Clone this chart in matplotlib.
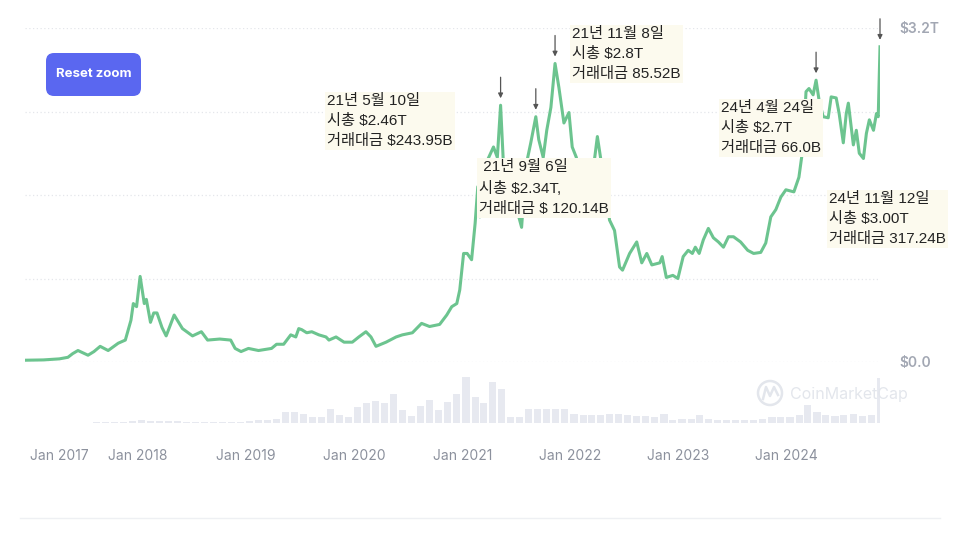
import matplotlib
matplotlib.use("Agg")
import matplotlib.pyplot as plt
import matplotlib.dates as mdates
from matplotlib.patches import FancyBboxPatch, Circle
from matplotlib.lines import Line2D
import pandas as pd

plt.rcParams['font.family'] = ['Inter', 'DejaVu Sans']

# total crypto market cap (trillion USD)
cap_dates = [
    '2016-12-15', '2017-01-15', '2017-02-15', '2017-03-15', '2017-04-10', '2017-05-09', '2017-05-25',
    '2017-06-12', '2017-07-16', '2017-08-05', '2017-08-26', '2017-09-22', '2017-10-26', '2017-11-19',
    '2017-12-08', '2017-12-16', '2017-12-27',
    '2018-01-08', '2018-01-22', '2018-01-29', '2018-02-12', '2018-02-23', '2018-03-06', '2018-03-23',
    '2018-04-06', '2018-05-03', '2018-05-31', '2018-07-04', '2018-08-03', '2018-08-24', '2018-10-04',
    '2018-11-10', '2018-11-25', '2018-12-15',
    '2019-01-09', '2019-02-12', '2019-03-28', '2019-04-14', '2019-05-08', '2019-06-01', '2019-06-18',
    '2019-06-28', '2019-07-08', '2019-07-25', '2019-08-11', '2019-09-04', '2019-09-28', '2019-10-08',
    '2019-11-01', '2019-11-28', '2019-12-26',
    '2020-01-17', '2020-02-10', '2020-02-27', '2020-03-15', '2020-04-18', '2020-05-22', '2020-06-12',
    '2020-07-16', '2020-08-16', '2020-09-12', '2020-10-16', '2020-11-09', '2020-11-26', '2020-12-13',
    '2020-12-23',
    '2021-01-05', '2021-01-17', '2021-02-01', '2021-02-13', '2021-02-22', '2021-03-01', '2021-03-26',
    '2021-04-16', '2021-04-29', '2021-05-10', '2021-05-20', '2021-05-31', '2021-06-17', '2021-07-04',
    '2021-07-20', '2021-08-03', '2021-08-20', '2021-09-06', '2021-09-16', '2021-10-01', '2021-10-13',
    '2021-10-27', '2021-11-10', '2021-11-23', '2021-12-10', '2021-12-27',
    '2022-01-07', '2022-01-21', '2022-01-31', '2022-02-10', '2022-02-24', '2022-03-13', '2022-04-02',
    '2022-04-19', '2022-05-03', '2022-05-13', '2022-05-30', '2022-06-16', '2022-06-26', '2022-07-20',
    '2022-08-13', '2022-08-30', '2022-09-16', '2022-10-03', '2022-10-30', '2022-11-07', '2022-11-21',
    '2022-12-13', '2022-12-30',
    '2023-01-17', '2023-02-03', '2023-02-17', '2023-02-27', '2023-03-12', '2023-03-26', '2023-04-12',
    '2023-04-29', '2023-05-16', '2023-06-02', '2023-06-19', '2023-07-06', '2023-07-30', '2023-08-23',
    '2023-09-12', '2023-10-06', '2023-10-23', '2023-11-09', '2023-11-26', '2023-12-13', '2023-12-30',
    '2024-01-26', '2024-02-12', '2024-02-26', '2024-03-07', '2024-03-17', '2024-03-31', '2024-04-10',
    '2024-04-20', '2024-05-04', '2024-05-21', '2024-05-31', '2024-06-17', '2024-06-27', '2024-07-11',
    '2024-07-21', '2024-07-28', '2024-08-14', '2024-08-24', '2024-09-03', '2024-09-17', '2024-09-27',
    '2024-10-07', '2024-10-21', '2024-10-31', '2024-11-06', '2024-11-12',
]
cap_values = [
    0.017, 0.018, 0.020, 0.025, 0.030, 0.045, 0.080,
    0.11, 0.065, 0.10, 0.15, 0.11, 0.18, 0.21,
    0.40, 0.56, 0.53,
    0.82, 0.56, 0.60, 0.38, 0.47, 0.47, 0.33,
    0.25, 0.45, 0.32, 0.25, 0.29, 0.21, 0.22,
    0.21, 0.13, 0.10,
    0.13, 0.11, 0.13, 0.17, 0.17, 0.26, 0.24,
    0.32, 0.31, 0.28, 0.29, 0.26, 0.24, 0.21,
    0.24, 0.19, 0.19,
    0.24, 0.29, 0.24, 0.15, 0.19, 0.24, 0.26,
    0.28, 0.37, 0.34, 0.36, 0.45, 0.53, 0.56,
    0.69,
    1.04, 1.04, 0.98, 1.33, 1.68, 1.39, 1.93,
    2.06, 1.96, 2.46, 1.87, 1.49, 1.43, 1.46,
    1.29, 1.87, 2.10, 2.35, 2.13, 1.96, 2.22,
    2.44, 2.86, 2.63, 2.29, 2.39,
    2.06, 1.96, 1.68, 1.93, 1.71, 1.71, 2.16,
    1.84, 1.68, 1.36, 1.26, 0.91, 0.88, 1.04,
    1.15, 0.95, 1.04, 0.93, 0.95, 1.01, 0.81,
    0.83, 0.80,
    1.01, 1.07, 1.04, 1.10, 1.04, 1.17, 1.28,
    1.19, 1.15, 1.10, 1.20, 1.20, 1.15, 1.07,
    1.04, 1.05, 1.14, 1.39, 1.46, 1.58, 1.65,
    1.63, 1.77, 2.06, 2.59, 2.62, 2.56, 2.70,
    2.51, 2.35, 2.34, 2.54, 2.53, 2.38, 2.10,
    2.38, 2.48, 2.08, 2.22, 2.00, 1.95, 2.19,
    2.32, 2.22, 2.38, 2.35, 3.02,
]

# monthly trading volume (billion USD), Dec 2016 .. Nov 2024
vol_months = pd.date_range('2016-12-01', '2024-11-01', freq='MS')
vol_values = [
    0.3,
    0.4, 0.5, 0.8, 1, 2, 3, 3, 4, 4, 5, 8, 14,
    20, 16, 13, 12, 14, 9, 8, 7, 6, 5, 7, 6,
    15, 18, 20, 30, 80, 76, 65, 42, 42, 95, 55, 45,
    110, 140, 155, 140, 200, 90, 50, 120, 160, 90, 150, 200,
    320, 180, 140, 290, 235, 40, 40, 100, 100, 100, 100, 95,
    60, 55, 55, 55, 65, 60, 55, 50, 50, 45, 60, 20,
    25, 25, 55, 25, 20, 22, 20, 20, 18, 25, 40, 45,
    45, 55, 125, 80, 55, 50, 55, 60, 50, 55, 317.24,
]

year_ticks = ['2017', '2018', '2019', '2020', '2021', '2022', '2023', '2024']

arrow_dates = ['2021-05-10', '2021-09-06', '2021-11-10', '2024-04-10', '2024-11-12']
notes = [
    '21년 5월 10일\n시총 $2.46T\n거래대금 $243.95B',
    ' 21년 9월 6일\n시총 $2.34T,\n거래대금 $ 120.14B',
    '21년 11월 8일\n시총 $2.8T\n거래대금 85.52B',
    '24년 4월 24일\n시총 $2.7T\n거래대금 66.0B',
    '24년 11월 12일\n시총 $3.00T\n거래대금 317.24B',
]
note_pos = [(327, 94), (479, 160), (572, 27), (721, 101), (829, 192)]  # pixels, top-left

cap = pd.Series(cap_values, index=pd.to_datetime(cap_dates))

W, H = 960, 540
fig = plt.figure(figsize=(9.6, 5.4), dpi=100)
ax = fig.add_axes([25 / W, (H - 362) / H, 855 / W, 334 / H])
axv = fig.add_axes([25 / W, (H - 423) / H, 855 / W, 50 / H], sharex=ax)

line_color = '#6cc48f'
ax.plot(cap.index, cap.values, color=line_color, lw=2.2, solid_joinstyle='round')
ax.set_xlim(cap.index[0], cap.index[-1])
ax.set_ylim(0, 3.2)

ax.set_yticks([0, 0.8, 1.6, 2.4, 3.2])
ax.set_yticklabels(['$0.0', '', '', '', '$3.2T'])
ax.yaxis.tick_right()
ax.tick_params(axis='y', length=0, pad=14, labelsize=10, labelcolor='#a2a7b3')
for t in ax.get_yticklabels():
    t.set_fontweight('semibold')
ax.tick_params(axis='x', bottom=False, labelbottom=False)
ax.grid(axis='y', color='#e4e6eb', linestyle=(0, (1, 2)), lw=0.9)
for s in ax.spines.values():
    s.set_visible(False)

# volume bars
widths = [24] * len(vol_months)
widths[-1] = 11
axv.bar(vol_months, vol_values, width=widths, align='edge', color='#e7e9f0', lw=0)
axv.set_ylim(0, 350)
axv.set_yticks([])
for s in axv.spines.values():
    s.set_visible(False)
axv.set_xticks(pd.to_datetime([y + '-01-01' for y in year_ticks]))
axv.set_xticklabels(['Jan ' + y for y in year_ticks])
axv.tick_params(axis='x', length=0, pad=19, labelsize=10, labelcolor='#8c919d')
axv.get_xticklabels()[0].set_horizontalalignment('left')

# arrows above peaks
for d in arrow_dates:
    v = cap[pd.Timestamp(d)]
    ax.annotate('', xy=(pd.Timestamp(d), v), xytext=(0, 28), textcoords='offset pixels',
                arrowprops=dict(arrowstyle='-|>', color='#555555', lw=0.9, shrinkA=0, shrinkB=5,
                                mutation_scale=7), annotation_clip=False)

# annotation boxes
for txt, (px, py) in zip(notes, note_pos):
    fig.text(px / W, 1 - py / H, txt, ha='left', va='top', fontsize=11, linespacing=1.55,
             color='#222222', family=['Liberation Sans', 'Noto Sans CJK KR'],
             bbox=dict(facecolor='#fcfaee', edgecolor='none', pad=1.5))

# Reset zoom button
btn = FancyBboxPatch((0.46, (H - 96) / 100), 0.95, 0.43,
                     boxstyle='round,pad=0,rounding_size=0.08',
                     transform=fig.dpi_scale_trans, facecolor='#5a67f0', edgecolor='none')
fig.add_artist(btn)
fig.text(93.5 / W, 1 - 74 / H, 'Reset zoom', ha='center', va='center', color='white',
         fontsize=9.5, fontweight='bold')

# CoinMarketCap watermark
wm = '#e3e6ec'
fig.add_artist(Circle((7.70, (H - 393) / 100), 0.12, transform=fig.dpi_scale_trans,
                      facecolor='none', edgecolor=wm, lw=1.8))
fig.add_artist(Line2D([7.63, 7.66, 7.70, 7.74, 7.78], [1.41, 1.53, 1.44, 1.53, 1.45],
                      transform=fig.dpi_scale_trans, color=wm, lw=1.8))
fig.text(790 / W, 1 - 395 / H, 'CoinMarketCap', ha='left', va='center', fontsize=11.5, color=wm)

# bottom separator
fig.add_artist(Line2D([20 / W, 940 / W], [1 - 518 / H, 1 - 518 / H], transform=fig.transFigure,
                      color='#eef0f3', lw=1))

fig.savefig('out.png', dpi=100, facecolor='white')
